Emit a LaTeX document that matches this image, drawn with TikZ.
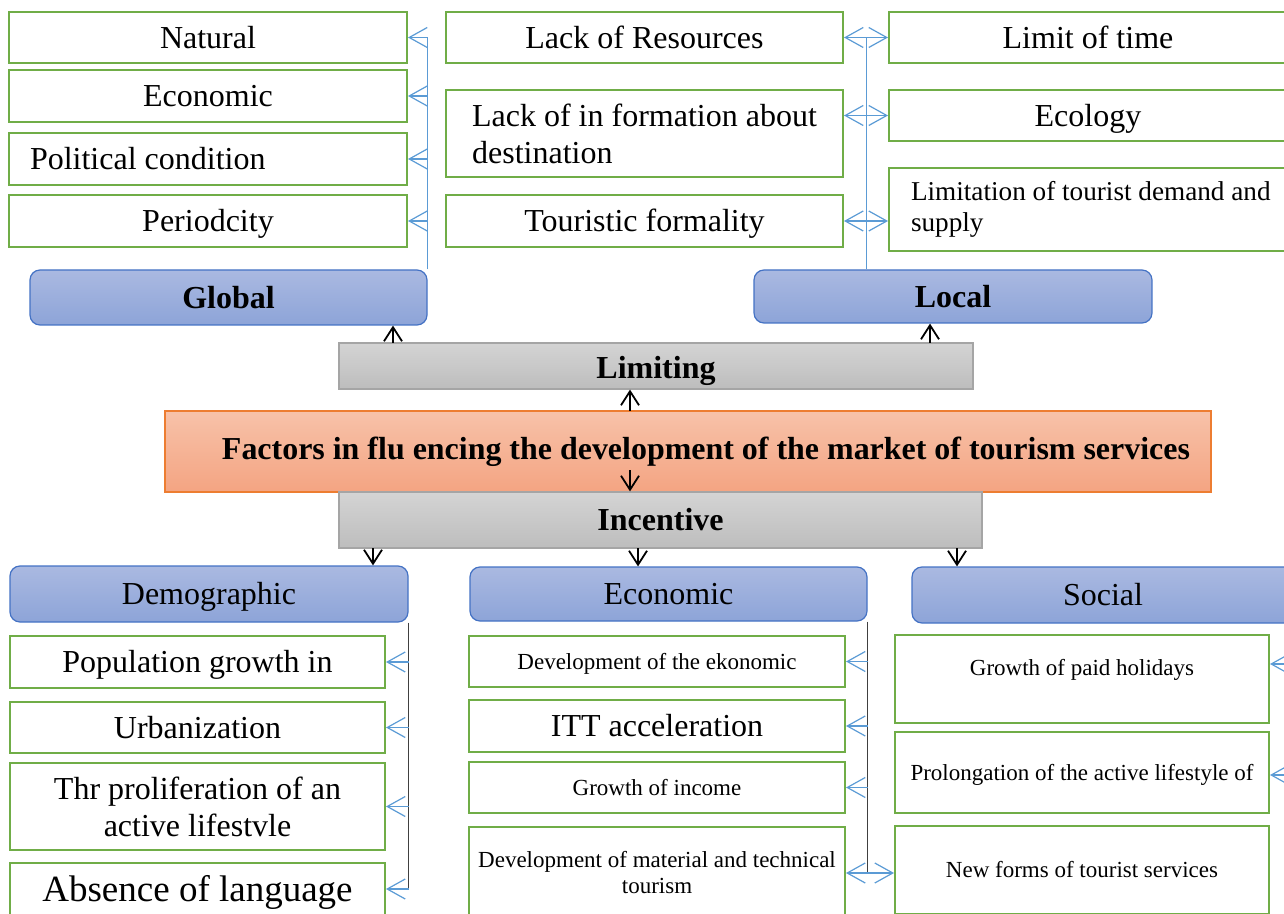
\documentclass[tikz,border=0pt]{standalone}
\usepackage{graphicx}
\usepackage{fontspec}
\setmainfont{Liberation Serif}
\usetikzlibrary{arrows.meta}

\definecolor{boxgreen}{HTML}{70AD47}
\definecolor{linkblue}{HTML}{5B9BD5}
\definecolor{groupline}{HTML}{4472C4}
\definecolor{grouptop}{HTML}{AAB9E1}
\definecolor{groupbot}{HTML}{8DA4D8}
\definecolor{kindtop}{HTML}{D4D4D4}
\definecolor{kindbot}{HTML}{BDBDBD}
\definecolor{kindline}{HTML}{A5A5A5}
\definecolor{maintop}{HTML}{F7C2A9}
\definecolor{mainbot}{HTML}{F4A482}
\definecolor{mainline}{HTML}{ED7D31}

\tikzstyle{factor}=[rectangle, draw=boxgreen, line width=1pt, fill=white, inner sep=0pt, font=\fontsize{16}{18.5}\selectfont]
\tikzstyle{one}=[text height=10.6pt, text depth=0pt]
\tikzstyle{small}=[font=\fontsize{11.5}{13}\selectfont, text height=7.6pt, text depth=0pt]
\tikzstyle{group}=[rectangle, rounded corners=5pt, draw=groupline, line width=0.6pt, top color=grouptop, bottom color=groupbot, inner sep=0pt, one, font=\fontsize{16}{18}\selectfont]
\tikzstyle{kind}=[rectangle, draw=kindline, line width=0.6pt, top color=kindtop, bottom color=kindbot, inner sep=0pt, font=\bfseries\fontsize{16}{18}\selectfont]
\tikzstyle{main}=[rectangle, draw=mainline, line width=0.6pt, top color=maintop, bottom color=mainbot, inner sep=0pt, font=\bfseries\fontsize{16}{18}\selectfont]
\tikzstyle{wire}=[draw=linkblue, line width=0.5pt]
\tikzstyle{link}=[draw=linkblue, line width=0.6pt, -{Straight Barb[length=9pt,width=10pt]}]
\tikzstyle{twolink}=[draw=linkblue, line width=0.6pt, {Straight Barb[length=9pt,width=10pt]}-{Straight Barb[length=9pt,width=10pt]}]
\tikzstyle{stem}=[draw=black!75, line width=0.6pt]
\tikzstyle{feed}=[draw=black, line width=0.9pt, -{Straight Barb[length=7pt,width=9pt]}]
\newcommand{\factor}{\node[factor]}
\newcommand{\group}{\node[group]}

\begin{document}
\begin{tikzpicture}[x=0.5pt, y=-0.5pt]
\clip (0,0) rectangle (1284,914);

% limiting: global
\factor[one, minimum width=199pt, minimum height=25.5pt] (natural) at (208,37.5) {Natural};
\factor[one, minimum width=199pt, minimum height=26pt] (economic) at (208,96) {Economic};
\factor[one, minimum width=199pt, minimum height=26pt, text width=178pt, align=flush left] (political) at (208,159) {Political condition};
\factor[one, minimum width=199pt, minimum height=26pt] (periodcity) at (208,221) {Periodcity};
\group[minimum width=198.5pt, minimum height=27.5pt, font=\bfseries\fontsize{16}{18}\selectfont] (global) at (228.5,297.5) {Global};

% limiting: local
\factor[one, minimum width=198.5pt, minimum height=25.5pt] (resources) at (644.5,37.5) {Lack of Resources};
\factor[minimum width=198.5pt, minimum height=43.5pt, align=left] (information) at (644.5,133.5) {Lack of in formation about\\destination};
\factor[one, minimum width=198.5pt, minimum height=26pt] (formality) at (644.5,221) {Touristic formality};
\factor[one, minimum width=199pt, minimum height=25.5pt] (time) at (1088,37.5) {Limit of time};
\factor[one, minimum width=199pt, minimum height=25.5pt] (ecology) at (1088,115.5) {Ecology};
\factor[minimum width=232pt, minimum height=41.5pt, text width=210pt, align=flush left, font=\fontsize{13.6}{15.5}\selectfont] (demand) at (1121,209.5) {Limitation of tourist demand and\\supply};
\group[minimum width=199pt, minimum height=26.5pt, font=\bfseries\fontsize{16}{18}\selectfont] (local) at (953,296.5) {Local};

% centre
\node[kind, minimum width=317pt, minimum height=23pt, text height=16.5pt] (limiting) at (656,366) {Limiting};
\node[main, minimum width=523pt, minimum height=40.5pt] (factors) at (688,451.5) {\hspace*{18pt}\resizebox{484pt}{!}{Factors in flu encing the development of the market of tourism services}};
\node[kind, one, minimum width=321.5pt, minimum height=28pt] (incentive) at (660.5,520) {Incentive};

% incentive groups
\group[minimum width=199pt, minimum height=28pt] (demographic) at (209,594) {Demographic};
\group[minimum width=198.5pt, minimum height=27pt] (economy) at (668.5,594) {Economic};
\group[minimum width=191pt, minimum height=28pt] (social) at (1103,595) {Social};

% demographic
\factor[one, minimum width=187.5pt, minimum height=26pt] (population) at (197.5,662) {Population growth in};
\factor[one, minimum width=187.5pt, minimum height=25.5pt] (urbanization) at (197.5,727.5) {Urbanization};
\factor[minimum width=187.5pt, minimum height=43.5pt, align=center] (lifestyle) at (197.5,806.5) {Thr proliferation of an\\active lifestvle};
\factor[minimum width=187.5pt, minimum height=26pt, font=\fontsize{18.5}{20}\selectfont, text height=12.2pt, text depth=0pt] (language) at (197.5,889) {Absence of language};

% economic
\factor[small, minimum width=188pt, minimum height=25.5pt] (ekonomic) at (657,661.5) {Development of the ekonomic};
\factor[one, minimum width=188pt, minimum height=26pt] (itt) at (657,726) {ITT acceleration};
\factor[small, minimum width=188pt, minimum height=25.5pt] (income) at (657,787.5) {Growth of income};
\factor[minimum width=188pt, minimum height=46pt, align=center, font=\fontsize{11.5}{13}\selectfont] (material) at (657,873) {Development of material and technical\\tourism};

% social
\factor[small, minimum width=187pt, minimum height=44pt, text depth=11.5pt] (holidays) at (1082,679) {Growth of paid holidays};
\factor[small, minimum width=187pt, minimum height=40.5pt] (prolongation) at (1082,772.5) {Prolongation of the active lifestyle of};
\factor[small, minimum width=187pt, minimum height=44pt] (newforms) at (1082,870) {New forms of tourist services};

% blue connectors, top
\draw[wire] (global.north east) -- (global.north east |- natural.east);
\foreach \n in {natural,economic,political,periodcity}
  \draw[link] (global.north east |- \n.east) -- (\n.east);
\coordinate (hub) at (866,37.5);
\draw[wire] (hub |- local.north) -- (hub);
\draw[twolink] (resources.east) -- (time.west);
\draw[twolink] (information.east |- ecology.west) -- (ecology.west);
\draw[twolink] (formality.east) -- (formality.east -| demand.west);

% black arrows
\coordinate (up1) at (393,343);
\coordinate (up2) at (930,343);
\coordinate (up3) at (630,411);
\coordinate (down0) at (630,470);
\draw[feed] (up1) -- (up1 |- global.south);
\draw[feed] (up2) -- (up2 |- local.south);
\draw[feed] (up3) -- (up3 |- limiting.south);
\draw[feed] (down0) -- (down0 |- incentive.north);
\foreach \x/\n in {373/demographic, 638/economy, 957/social}
  \draw[feed] (\x,548) -- (\n.north -| \x,548);

% blue connectors, bottom
\draw[stem] (demographic.south east) -- (demographic.south east |- language.east);
\foreach \n in {population,urbanization,lifestyle,language}
  \draw[link] (demographic.south east |- \n.east) -- (\n.east);
\draw[stem] (economy.south east) -- (economy.south east |- material.east);
\foreach \n in {ekonomic,itt,income}
  \draw[link] (economy.south east |- \n.east) -- (\n.east);
\draw[twolink] (material.east) -- (material.east -| newforms.west);
\coordinate (s1) at (1300,664);
\coordinate (s2) at (1300,775);
\draw[link] (s1) -- (s1 -| holidays.east);
\draw[link] (s2) -- (s2 -| prolongation.east);
\end{tikzpicture}
\end{document}
